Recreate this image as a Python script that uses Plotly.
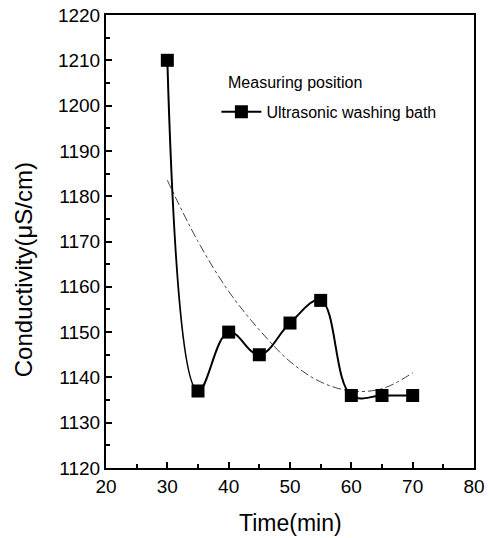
import plotly.graph_objects as go

time_min = [30, 35, 40, 45, 50, 55, 60, 65, 70]
conductivity = [1210, 1137, 1150, 1145, 1152, 1157, 1136, 1136, 1136]

fit_time = [30, 35, 40, 45, 50, 55, 60, 65, 70]
fit_values = [1183.5, 1170, 1159, 1150.5, 1143.5, 1139, 1137, 1137.5, 1141]

x_ticks = [20, 30, 40, 50, 60, 70, 80]
y_ticks = [1120, 1130, 1140, 1150, 1160, 1170, 1180, 1190, 1200, 1210, 1220]

font_family = "Liberation Sans, Arial, sans-serif"

fig = go.Figure()
fig.add_trace(go.Scatter(
    x=fit_time, y=fit_values, mode="lines",
    line=dict(color="#444444", width=1, dash="dashdot", shape="spline", smoothing=1.0),
    showlegend=False, hoverinfo="skip"))
fig.add_trace(go.Scatter(
    x=time_min, y=conductivity, mode="lines+markers",
    name="Ultrasonic washing bath",
    line=dict(color="black", width=2, shape="spline", smoothing=1.1),
    marker=dict(symbol="square", size=13, color="black")))

axis_common = dict(
    showline=True, linecolor="black", linewidth=2, mirror=True,
    ticks="inside", ticklen=6, tickwidth=2, tickcolor="black",
    showgrid=False, zeroline=False, automargin=False,
    tickfont=dict(family=font_family, size=19, color="black"),
)

fig.update_xaxes(range=[20, 80], tickvals=x_ticks,
                 minor=dict(ticks="inside", ticklen=4, tickwidth=1.5, tickcolor="black", dtick=5, tick0=20),
                 **axis_common)
fig.update_yaxes(range=[1120, 1220], tickvals=y_ticks,
                 minor=dict(ticks="inside", ticklen=4, tickwidth=1.5, tickcolor="black", dtick=5, tick0=1120),
                 **axis_common)

fig.add_annotation(x=0.325, y=0.852, xref="paper", yref="paper", xanchor="left", yanchor="middle",
                   text="Measuring position", showarrow=False,
                   font=dict(family=font_family, size=16, color="black"))
fig.add_annotation(x=0.50, y=-0.122, xref="paper", yref="paper", xanchor="center", yanchor="middle",
                   text="Time(min)", showarrow=False,
                   font=dict(family=font_family, size=23, color="black"))
fig.add_annotation(x=-0.225, y=0.437, xref="paper", yref="paper", xanchor="center", yanchor="middle",
                   text="Conductivity(μS/cm)", showarrow=False, textangle=-90,
                   font=dict(family=font_family, size=24, color="black"))

fig.update_layout(
    width=489, height=538,
    margin=dict(l=106, r=15, t=15, b=70),
    paper_bgcolor="white", plot_bgcolor="white",
    legend=dict(x=0.30, y=0.786, xanchor="left", yanchor="middle", itemwidth=40,
                bgcolor="rgba(0,0,0,0)", font=dict(family=font_family, size=16, color="black")),
    font=dict(family=font_family, color="black"),
)

fig.write_html("out.html")
